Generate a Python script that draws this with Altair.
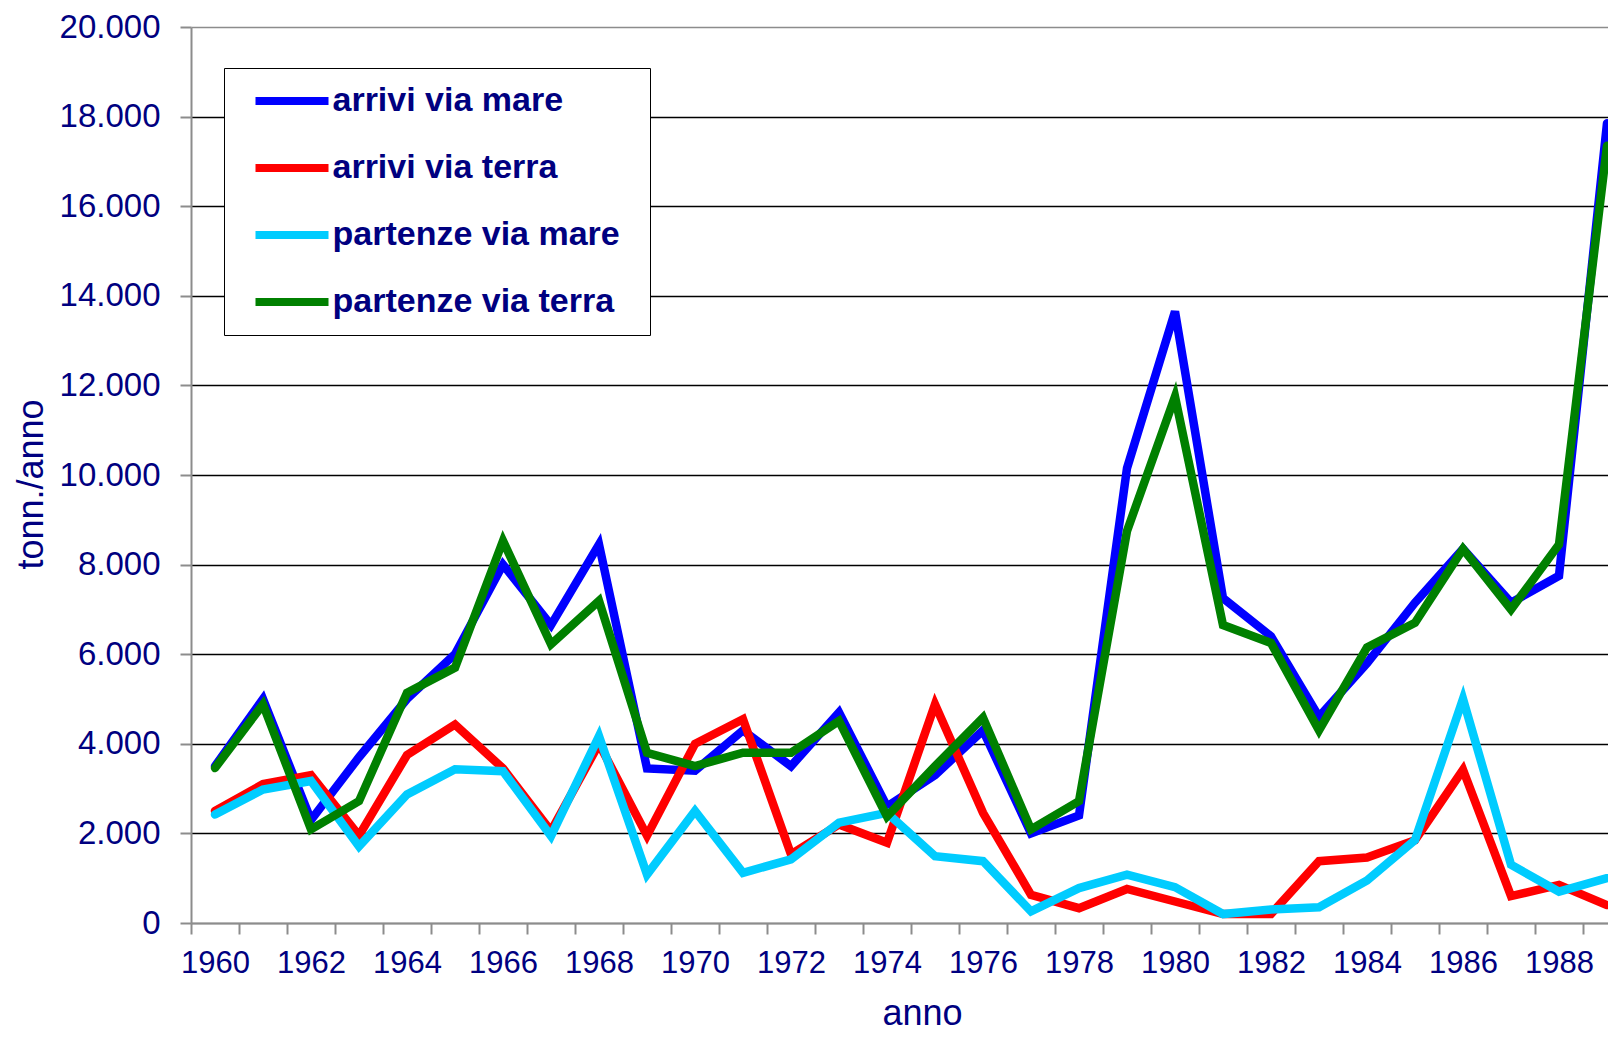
import altair as alt
import pandas as pd

years = list(range(1960, 1990))

arrivi_mare = [3500, 5000, 2300, 3700, 5000, 6000, 8000, 6650, 8450, 3450,
               3400, 4300, 3500, 4700, 2600, 3300, 4300, 2000, 2400, 10150,
               13650, 7250, 6400, 4600, 5800, 7150, 8350, 7150, 7750, 17850]
arrivi_terra = [2500, 3100, 3300, 1950, 3750, 4430, 3450, 2050, 4000, 1950,
                4000, 4550, 1530, 2200, 1790, 4880, 2460, 630, 330, 760,
                480, 200, 200, 1380, 1460, 1850, 3420, 600, 850, 400]
partenze_mare = [2420, 2980, 3170, 1710, 2870, 3430, 3390, 1940, 4170, 1080,
                 2500, 1120, 1420, 2240, 2460, 1490, 1380, 260, 780, 1080,
                 800, 200, 300, 350, 950, 1850, 5000, 1300, 700, 1000]
partenze_terra = [3460, 4880, 2090, 2720, 5140, 5700, 8530, 6220, 7190, 3800,
                  3500, 3800, 3800, 4510, 2380, 3500, 4580, 2090, 2720, 8750,
                  11750, 6650, 6250, 4300, 6150, 6700, 8350, 7000, 8450, 17350]

series_names = ["arrivi via mare", "arrivi via terra", "partenze via mare", "partenze via terra"]
series_colors = ["#0000FF", "#FF0000", "#00CCFF", "#008000"]
series_values = [arrivi_mare, arrivi_terra, partenze_mare, partenze_terra]

rows = []
for name, vals in zip(series_names, series_values):
    for y, v in zip(years, vals):
        rows.append({"anno": y, "valore": v, "serie": name})
df = pd.DataFrame(rows)

navy = "#000080"
gray = "#8C8C8C"
FONT = "Liberation Sans"

PLOT_W = 1417
BAND = 48.0
x_end = 1959.5 + PLOT_W / BAND
x_ticks = [1959.5 + k for k in range(30)]
y_ticks = list(range(0, 20001, 2000))

chart = alt.Chart(df).mark_line(strokeWidth=8.5, strokeCap="round").encode(
    x=alt.X(
        "anno:Q",
        scale=alt.Scale(domain=[1959.5, x_end], nice=False, zero=False),
        axis=alt.Axis(
            values=x_ticks,
            labelExpr="(datum.value - 1959.5) % 2 === 0 && datum.value < 1989 ? format(datum.value + 0.5, 'd') : ''",
            labelOffset=24,
            labelOverlap=False,
            labelFlush=False,
            labelBound=False,
            labelFont=FONT,
            labelFontSize=31,
            labelColor=navy,
            labelPadding=14,
            tickSize=11,
            tickColor=gray,
            tickWidth=2,
            domainColor=gray,
            domainWidth=2,
            grid=False,
            title="anno",
            titleFont=FONT,
            titleFontSize=36,
            titleFontWeight="normal",
            titleColor=navy,
            titleX=731,
            titleY=101,
            titleAlign="center",
            titleBaseline="alphabetic",
        ),
    ),
    y=alt.Y(
        "valore:Q",
        scale=alt.Scale(domain=[0, 20000], nice=False),
        axis=alt.Axis(
            values=y_ticks,
            labelExpr="replace(format(datum.value, ','), ',', '.')",
            labelFont=FONT,
            labelFontSize=33,
            labelColor=navy,
            labelPadding=20,
            tickSize=11,
            tickColor=gray,
            tickWidth=2,
            domainColor=gray,
            domainWidth=2,
            grid=True,
            gridColor={"condition": {"test": "datum.value === 20000 || datum.value === 0", "value": gray}, "value": "#000000"},
            gridWidth=1.5,
            title="tonn./anno",
            titleFont=FONT,
            titleFontSize=36,
            titleFontWeight="normal",
            titleColor=navy,
            titleAngle=270,
            titleX=-149,
            titleY=457,
            titleAlign="center",
            titleBaseline="alphabetic",
        ),
    ),
    color=alt.Color(
        "serie:N",
        scale=alt.Scale(domain=series_names, range=series_colors),
        sort=series_names,
        legend=alt.Legend(
            title=None,
            orient="none",
            legendX=33,
            legendY=41,
            direction="vertical",
            symbolType="M-9.125,0H9.125M81.4,0",
            symbolSize=64,
            symbolStrokeWidth=8,
            symbolOffset=35,
            labelOffset=23.5,
            labelFont=FONT,
            labelFontSize=34,
            labelFontWeight="bold",
            labelColor=navy,
            labelLimit=600,
            rowPadding=33,
            padding=16,
            strokeColor="#000000",
            fillColor="#FFFFFF",
            cornerRadius=0,
        ),
    ),
).properties(
    width=PLOT_W,
    height=896,
    autosize=alt.AutoSizeParams(type="none"),
    padding={"left": 183, "top": 19, "right": 0, "bottom": 110},
).configure_view(
    stroke="transparent",
)

chart.save("out.html", embed_options={"renderer": "svg", "actions": False})
